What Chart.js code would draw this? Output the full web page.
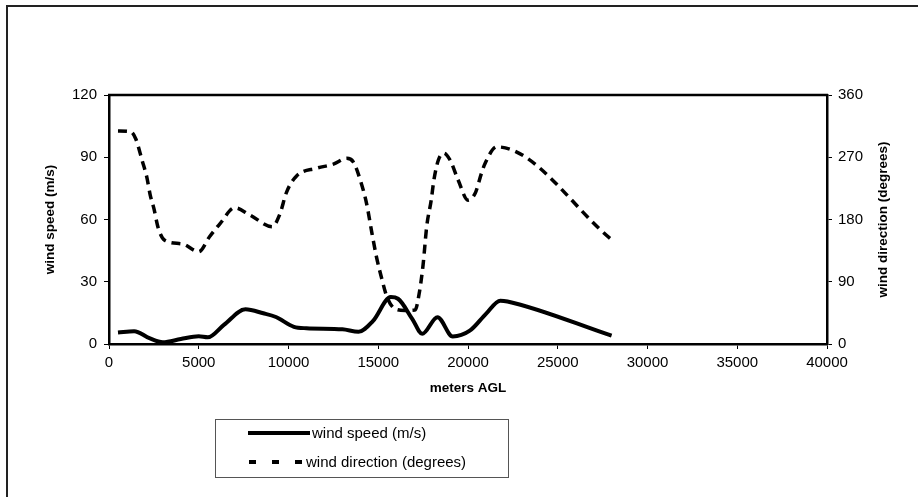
<!DOCTYPE html>
<html>
<head>
<meta charset="utf-8">
<script src="https://cdn.jsdelivr.net/npm/chart.js@4"></script>
<style>
  body { margin: 0; background: #fff; font-family: "Liberation Sans", Arial, sans-serif; }
  #wrap { position: relative; width: 918px; height: 497px; overflow: hidden; }
  #frame { position: absolute; left: 6px; top: 5px; width: 2000px; height: 2000px;
           border-left: 2px solid #222; border-top: 2px solid #222; }
  #chart { position: absolute; left: 0; top: 0; }
  #legend { position: absolute; left: 215px; top: 419px; width: 292px; height: 57px;
            border: 1px solid #555; font-size: 15px; color: #000; }
  .row { position: absolute; left: 0; height: 20px; line-height: 20px; white-space: nowrap; }
  .sample { position: absolute; top: 8px; height: 4px; }
  .txt { position: absolute; top: 0; }
</style>
</head>
<body>
<div id="wrap">
  <div id="frame"></div>
  <canvas id="chart" width="918" height="497"></canvas>
  <div id="legend"></div>
</div>
<script>
// wind speed profile (left axis)
const speedHeights = [500, 1400, 2250, 3000, 4000, 5000, 5500, 6400, 7600, 8600, 9300, 10300, 11000, 13000, 13900,
  14700, 15700, 16100, 16900, 17450, 18300, 19150, 20100, 21000, 21800, 22200, 28000];
const speedValues = [5.5, 6.2, 2.8, 0.8, 2.4, 3.7, 3.2, 9.2, 16.7, 14.8, 13, 8.3, 7.6, 7.1, 5.9,
  11, 22.6, 21.8, 12, 4.9, 12.9, 3.6, 6.4, 14.5, 20.9, 20.5, 4];

// wind direction profile (right axis)
const dirHeights = [500, 1200, 1500, 1850, 2100, 2300, 2500, 2750, 3100, 4100, 5000, 5600, 6200, 7000, 7850, 9100,
  9500, 9900, 10450, 11550, 12500, 13250, 13600, 14000, 14350, 14650, 14900, 15200, 15500, 16000, 16500, 17050,
  17300, 17500, 17700, 17950, 18100, 18350, 18650, 19000, 19450, 20000, 20400, 20750, 20950, 21600, 28000];
const dirValues = [308, 307, 296, 265, 242, 215, 196, 167, 150, 144.6, 133.5, 155, 174.5, 197, 186.5, 169.6,
  186.5, 220, 243, 254, 260, 268.4, 263.6, 237, 203, 160, 126, 94, 67, 50, 48.5, 49,
  76, 115, 170, 208, 237, 266, 276, 266, 237, 208, 218, 246.8, 261, 285, 151];

const speedTicks = [0, 30, 60, 90, 120];
const dirTicks = [0, 90, 180, 270, 360];
const heightTicks = [0, 5000, 10000, 15000, 20000, 25000, 30000, 35000, 40000];

const legendLabels = ['wind speed (m/s)', 'wind direction (degrees)'];
const rightTitle = 'wind direction (degrees)';

const tickFont = { family: 'Liberation Sans', size: 15 };
const titleFont = { family: 'Liberation Sans', size: 13.5, weight: 'bold' };

// thick top edge of the plot box + right axis title read bottom-to-top
const plotFrame = {
  id: 'plotFrame',
  afterDraw(chart) {
    const a = chart.chartArea;
    const ctx = chart.ctx;
    ctx.save();
    ctx.strokeStyle = '#000';
    ctx.lineWidth = 2.5;
    ctx.beginPath();
    ctx.moveTo(a.left - 1, a.top);
    ctx.lineTo(a.right + 1, a.top);
    ctx.stroke();

    const s = chart.scales.y2;
    ctx.translate(s.right - 12.4, (a.top + a.bottom) / 2);
    ctx.rotate(-Math.PI / 2);
    ctx.fillStyle = '#000';
    ctx.font = 'bold 13.5px "Liberation Sans"';
    ctx.textAlign = 'center';
    ctx.textBaseline = 'middle';
    ctx.fillText(rightTitle, 0, 0);
    ctx.restore();
  }
};

function toPoints(xs, ys) {
  return xs.map((x, i) => ({ x: x, y: ys[i] }));
}

const plain = v => String(v);

new Chart(document.getElementById('chart').getContext('2d'), {
  type: 'scatter',
  data: {
    datasets: [{
      label: legendLabels[0],
      data: toPoints(speedHeights, speedValues),
      yAxisID: 'y',
      showLine: true,
      borderColor: '#000',
      borderWidth: 4,
      pointRadius: 0,
      cubicInterpolationMode: 'monotone'
    }, {
      label: legendLabels[1],
      data: toPoints(dirHeights, dirValues),
      yAxisID: 'y2',
      showLine: true,
      borderColor: '#000',
      borderWidth: 3.5,
      borderDash: [9, 6],
      pointRadius: 0,
      cubicInterpolationMode: 'monotone'
    }]
  },
  options: {
    responsive: false,
    animation: false,
    devicePixelRatio: 1,
    layout: { padding: { left: 38, right: 22.6, top: 95, bottom: 97 } },
    plugins: { legend: { display: false }, tooltip: { enabled: false } },
    scales: {
      x: {
        type: 'linear',
        min: 0, max: 40000,
        afterBuildTicks: s => { s.ticks = heightTicks.map(v => ({ value: v })); },
        afterFit: s => { s.height = 56; },
        ticks: { font: tickFont, color: '#000', padding: 5, callback: plain },
        grid: { drawOnChartArea: false, color: '#000', tickLength: 5, lineWidth: 1 },
        border: { color: '#000', width: 2.5 },
        title: { display: true, text: 'meters AGL', font: titleFont, color: '#000' }
      },
      y: {
        position: 'left',
        min: 0, max: 120,
        afterBuildTicks: s => { s.ticks = speedTicks.map(v => ({ value: v })); },
        afterFit: s => { s.width = 71; },
        ticks: { font: tickFont, color: '#000', padding: 7, callback: plain },
        grid: { drawOnChartArea: false, color: '#000', tickLength: 5, lineWidth: 1 },
        border: { color: '#000', width: 2.5 },
        title: { display: true, text: 'wind speed (m/s)', font: titleFont, color: '#000' }
      },
      y2: {
        position: 'right',
        min: 0, max: 360,
        afterBuildTicks: s => { s.ticks = dirTicks.map(v => ({ value: v })); },
        afterFit: s => { s.width = 68.4; },
        ticks: { font: tickFont, color: '#000', padding: 6, callback: plain },
        grid: { drawOnChartArea: false, color: '#000', tickLength: 5, lineWidth: 1 },
        border: { color: '#000', width: 2.5 }
      }
    }
  },
  plugins: [plotFrame]
});

// legend box below the chart, one entry per row
const legend = document.getElementById('legend');
const rows = [
  { top: 3, sample: 'left:32px;width:62px;background:#000;', textLeft: 96 },
  { top: 32, sample: 'left:33px;width:54px;background:repeating-linear-gradient(to right,#000 0 7px,transparent 7px 23px);', textLeft: 90 }
];
rows.forEach((r, i) => {
  const row = document.createElement('div');
  row.className = 'row';
  row.style.top = r.top + 'px';
  row.innerHTML = '<div class="sample" style="' + r.sample + '"></div>' +
    '<span class="txt" style="left:' + r.textLeft + 'px">' + legendLabels[i] + '</span>';
  legend.appendChild(row);
});
</script>
</body>
</html>
